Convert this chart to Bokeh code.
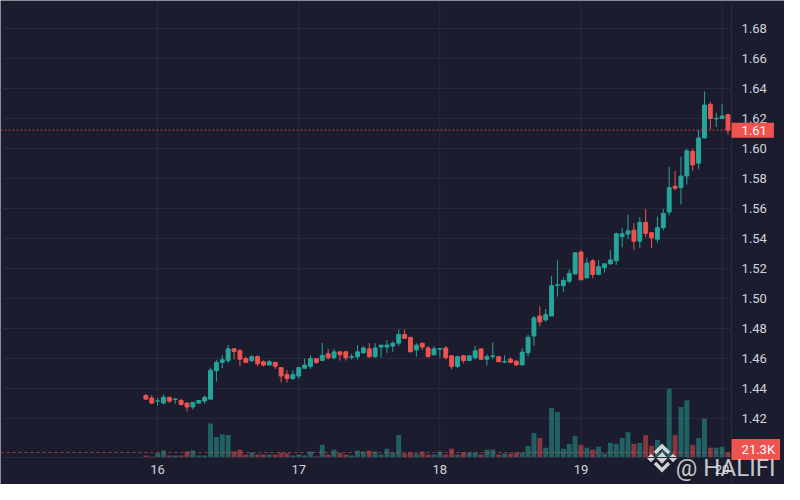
from bokeh.plotting import figure
from bokeh.models import Range1d, FixedTicker, PrintfTickFormatter, Label, ColumnDataSource, LinearAxis
from bokeh.embed import file_html
from bokeh.resources import INLINE

# hourly candles; hour 0 = day 16 00:00
hours = list(range(-2, 98))

opens = [1.4355, 1.4338, 1.4317, 1.4304, 1.4342, 1.4327, 1.4321, 1.4304, 1.4278, 1.4304,
         1.4317, 1.4330, 1.4519, 1.4575, 1.4588, 1.4665, 1.4652, 1.4600, 1.4588, 1.4613,
         1.4579, 1.4557, 1.4575, 1.4540, 1.4493, 1.4467, 1.4484, 1.4536, 1.4549, 1.4600,
         1.4588, 1.4632, 1.4606, 1.4645, 1.4645, 1.4609, 1.4613, 1.4639, 1.4665, 1.4613,
         1.4677, 1.4677, 1.4684, 1.4703, 1.4761, 1.4742, 1.4658, 1.4703, 1.4671, 1.4626,
         1.4663, 1.4671, 1.4619, 1.4548, 1.4619, 1.4587, 1.4606, 1.4665, 1.4596, 1.4615,
         1.4613, 1.4577, 1.4596, 1.4583, 1.4558, 1.4639, 1.4751, 1.4884, 1.4858, 1.4884,
         1.5088, 1.5086, 1.5116, 1.5164, 1.5310, 1.5138, 1.5252, 1.5161, 1.5207, 1.5232,
         1.5252, 1.5413, 1.5430, 1.5456, 1.5383, 1.5508, 1.5439, 1.5396, 1.5473, 1.5577,
         1.5749, 1.5740, 1.5817, 1.5981, 1.5903, 1.6071, 1.6295, 1.6198, 1.6200, 1.6226]
highs = [1.4364, 1.4355, 1.4338, 1.4360, 1.4342, 1.4338, 1.4334, 1.4304, 1.4308, 1.4325,
         1.4355, 1.4540, 1.4592, 1.4622, 1.4691, 1.4665, 1.4665, 1.4613, 1.4622, 1.4622,
         1.4588, 1.4592, 1.4575, 1.4540, 1.4523, 1.4523, 1.4540, 1.4600, 1.4622, 1.4600,
         1.4704, 1.4665, 1.4665, 1.4652, 1.4652, 1.4632, 1.4690, 1.4684, 1.4703, 1.4703,
         1.4690, 1.4723, 1.4716, 1.4794, 1.4794, 1.4742, 1.4703, 1.4703, 1.4684, 1.4684,
         1.4671, 1.4684, 1.4619, 1.4619, 1.4619, 1.4619, 1.4684, 1.4665, 1.4630, 1.4708,
         1.4613, 1.4622, 1.4609, 1.4592, 1.4669, 1.4759, 1.4884, 1.4949, 1.4931, 1.5151,
         1.5254, 1.5142, 1.5194, 1.5310, 1.5323, 1.5271, 1.5265, 1.5258, 1.5232, 1.5323,
         1.5439, 1.5471, 1.5559, 1.5504, 1.5542, 1.5598, 1.5439, 1.5546, 1.5598, 1.5878,
         1.5852, 1.5946, 1.5998, 1.5998, 1.6123, 1.6381, 1.6312, 1.6239, 1.6299, 1.6226]
lows = [1.4330, 1.4295, 1.4287, 1.4295, 1.4304, 1.4299, 1.4287, 1.4248, 1.4261, 1.4299,
        1.4299, 1.4330, 1.4446, 1.4536, 1.4570, 1.4596, 1.4549, 1.4575, 1.4575, 1.4549,
        1.4549, 1.4557, 1.4532, 1.4441, 1.4441, 1.4459, 1.4467, 1.4536, 1.4532, 1.4566,
        1.4588, 1.4594, 1.4594, 1.4587, 1.4587, 1.4594, 1.4594, 1.4632, 1.4606, 1.4606,
        1.4606, 1.4639, 1.4645, 1.4684, 1.4735, 1.4645, 1.4613, 1.4658, 1.4613, 1.4619,
        1.4606, 1.4594, 1.4529, 1.4536, 1.4568, 1.4587, 1.4594, 1.4592, 1.4553, 1.4596,
        1.4579, 1.4570, 1.4570, 1.4553, 1.4558, 1.4613, 1.4686, 1.4815, 1.4845, 1.4884,
        1.5013, 1.5047, 1.5103, 1.5164, 1.5125, 1.5138, 1.5136, 1.5155, 1.5174, 1.5226,
        1.5226, 1.5342, 1.5396, 1.5323, 1.5336, 1.5409, 1.5336, 1.5374, 1.5456, 1.5555,
        1.5723, 1.5628, 1.5761, 1.5852, 1.5865, 1.6067, 1.6127, 1.6144, 1.6200, 1.6093]
closes = [1.4330, 1.4304, 1.4318, 1.4342, 1.4317, 1.4330, 1.4295, 1.4278, 1.4308, 1.4321,
          1.4342, 1.4523, 1.4575, 1.4592, 1.4665, 1.4648, 1.4596, 1.4575, 1.4613, 1.4566,
          1.4557, 1.4579, 1.4549, 1.4484, 1.4467, 1.4493, 1.4540, 1.4557, 1.4600, 1.4575,
          1.4622, 1.4606, 1.4645, 1.4626, 1.4606, 1.4613, 1.4645, 1.4671, 1.4613, 1.4671,
          1.4690, 1.4690, 1.4703, 1.4761, 1.4735, 1.4645, 1.4690, 1.4677, 1.4613, 1.4665,
          1.4667, 1.4606, 1.4548, 1.4613, 1.4587, 1.4619, 1.4652, 1.4596, 1.4613, 1.4619,
          1.4579, 1.4581, 1.4575, 1.4558, 1.4643, 1.4742, 1.4871, 1.4845, 1.4893, 1.5086,
          1.5092, 1.5121, 1.5168, 1.5305, 1.5125, 1.5237, 1.5161, 1.5213, 1.5232, 1.5258,
          1.5432, 1.5432, 1.5452, 1.5383, 1.5508, 1.5435, 1.5405, 1.5473, 1.5568, 1.5740,
          1.5736, 1.5817, 1.5985, 1.5891, 1.6071, 1.6290, 1.6200, 1.6202, 1.6217, 1.6123]
# volume in thousands
volumes = [8.5, 4.3, 18.5, 29.8, 8.5, 8.5, 8.5, 25.6, 29.8, 8.5,
           8.5, 149.0, 89.5, 102.0, 98.0, 25.6, 34.1, 12.8, 21.3, 12.8,
           12.8, 12.8, 12.8, 21.3, 18.5, 8.5, 12.8, 8.5, 25.6, 4.3,
           55.4, 12.8, 34.1, 18.5, 12.8, 8.5, 29.8, 25.6, 29.8, 25.6,
           12.8, 38.3, 21.3, 98.0, 17.0, 21.3, 17.0, 25.6, 12.8, 12.8,
           25.6, 12.8, 38.3, 12.8, 21.3, 21.3, 21.3, 12.8, 34.1, 34.1,
           12.8, 17.0, 17.0, 21.3, 21.3, 51.1, 106.5, 85.2, 42.6, 217.0,
           200.0, 38.3, 59.6, 93.7, 55.4, 42.6, 34.1, 46.9, 17.0, 63.9,
           59.6, 85.2, 110.8, 59.6, 63.9, 98.0, 51.1, 76.7, 42.6, 302.5,
           98.0, 221.5, 251.3, 55.4, 85.2, 170.4, 42.6, 42.6, 46.9, 21.3]

day_ticks = [0, 24, 48, 72, 96]
day_labels = ["16", "17", "18", "19", "20"]
price_ticks = [1.42, 1.44, 1.46, 1.48, 1.50, 1.52, 1.54, 1.56, 1.58, 1.60, 1.62, 1.64, 1.66, 1.68]
last_price_text = "1.61"
last_volume_text = "21.3K"
watermark_text = "@ HALIFI"

# layout of the canvas (pane + price scale + time scale)
W, H = 784, 484
X0, X1 = -26.72, 106.61      # hours across whole canvas
PLOT_RIGHT = 97.61           # right edge of the chart pane
Y0, Y1 = 1.3761, 1.6987      # price across whole canvas
PANE_BOTTOM = 1.3942         # bottom edge of the chart pane
VOL0, VOL1 = -119.3, 2010.7  # volume overlay scale

BG = "#1b1c2e"
GRID = "#2a2b3e"
UP = "#26a69a"
DOWN = "#ef5350"
TEXT = "#d1d4dc"
MARK = "#e6e6e6"
FONT = "Roboto"

colors = [UP if c >= o else DOWN for o, c in zip(opens, closes)]
src = ColumnDataSource(dict(
    x=hours, o=opens, h=highs, l=lows, c=closes,
    top=[max(o, c) for o, c in zip(opens, closes)],
    bottom=[min(o, c) for o, c in zip(opens, closes)],
    vol=volumes, color=colors))

p = figure(width=W, height=H, output_backend="svg", toolbar_location=None,
           x_range=Range1d(X0, X1), y_range=Range1d(Y0, Y1),
           x_axis_location=None, y_axis_location=None,
           min_border=0, min_border_left=0, min_border_right=0,
           min_border_top=0, min_border_bottom=0,
           background_fill_color=BG, border_fill_color=BG, outline_line_color=None)
p.extra_y_ranges = {"vol": Range1d(VOL0, VOL1)}
p.xgrid.visible = False
p.ygrid.visible = False

# grid lines (pane only)
p.segment(x0=X0, y0=price_ticks, x1=PLOT_RIGHT, y1=price_ticks, line_color=GRID, line_width=1)
p.segment(x0=day_ticks, y0=PANE_BOTTOM, x1=day_ticks, y1=Y1, line_color=GRID, line_width=1)

# volume
p.vbar(x="x", top="vol", bottom=0, width=0.84, y_range_name="vol", source=src,
       fill_color="color", fill_alpha=0.5, line_color=None)
p.segment(x0=X0, y0=volumes[-1], x1=PLOT_RIGHT, y1=volumes[-1], y_range_name="vol",
          line_color=DOWN, line_alpha=0.6, line_dash="3 3", line_width=1)

# candles
p.segment(x0="x", y0="l", x1="x", y1="h", source=src, line_color="color", line_width=1)
p.vbar(x="x", top="top", bottom="bottom", width=0.66, source=src,
       fill_color="color", line_color="color", line_width=1)

# last price line
p.segment(x0=X0, y0=closes[-1], x1=PLOT_RIGHT, y1=closes[-1],
          line_color=DOWN, line_alpha=0.8, line_dash="2 2", line_width=1)

# price scale (right) and time scale (bottom)
ya = LinearAxis(fixed_location=PLOT_RIGHT, bounds=(Y0, Y1),
                ticker=FixedTicker(ticks=price_ticks),
                formatter=PrintfTickFormatter(format="%.2f"))
ya.major_tick_line_color = None
ya.minor_tick_line_color = None
ya.major_tick_out = 0
ya.major_tick_in = 0
ya.major_label_standoff = 10
ya.axis_line_color = GRID
ya.major_label_text_color = TEXT
ya.major_label_text_font = FONT
ya.major_label_text_font_size = "13px"
p.add_layout(ya, "right")

xa = LinearAxis(fixed_location=PANE_BOTTOM, bounds=(X0, PLOT_RIGHT),
                ticker=FixedTicker(ticks=day_ticks))
xa.major_label_overrides = {t: s for t, s in zip(day_ticks, day_labels)}
xa.major_tick_line_color = None
xa.minor_tick_line_color = None
xa.major_tick_out = 0
xa.major_tick_in = 0
xa.major_label_standoff = 8
xa.axis_line_color = GRID
xa.major_label_text_color = TEXT
xa.major_label_text_font = FONT
xa.major_label_text_font_size = "13px"
p.add_layout(xa, "below")

# last value labels on the price scale
p.add_layout(Label(x=PLOT_RIGHT, y=closes[-1], text=last_price_text,
                   text_align="left", text_baseline="middle", text_color="white",
                   text_font=FONT, text_font_size="13px",
                   background_fill_color=DOWN,
                   padding=dict(left=10, right=7, top=3, bottom=3)))
p.add_layout(Label(x=PLOT_RIGHT, y=volumes[-1], y_range_name="vol", text=last_volume_text,
                   y_offset=3,
                   text_align="left", text_baseline="middle", text_color="white",
                   text_font=FONT, text_font_size="13px",
                   background_fill_color=DOWN,
                   padding=dict(left=10, right=5, top=3, bottom=3)))

# watermark: logo built from small shapes around a centre point (in pixels)
px_x = (X1 - X0) / W
px_y = (Y1 - Y0) / H
cx, cy = X0 + 661.5 * px_x, Y1 - 457.5 * px_y
dia_dx = [0, -11, 11]
dia_size = [8, 6, 6]
p.scatter(x=[cx + d * px_x for d in dia_dx], y=[cy] * 3, size=dia_size, marker="square",
          angle=0.785398, fill_color=MARK, fill_alpha=0.9, line_color=None)
chev_x = [[-7, 0, 7], [-7, 0, 7]]
chev_y = [[-5, -12, -5], [5, 12, 5]]
p.multi_line(xs=[[cx + d * px_x for d in row] for row in chev_x],
             ys=[[cy - d * px_y for d in row] for row in chev_y],
             line_color=MARK, line_alpha=0.9, line_width=3.5, line_join="miter")
p.add_layout(Label(x=775, y=17, x_units="screen", y_units="screen", text=watermark_text,
                   text_align="right", text_baseline="alphabetic",
                   text_font=FONT, text_font_size="24px",
                   text_color=MARK, text_alpha=0.85))

open("out.html", "w").write(file_html(p, INLINE))
